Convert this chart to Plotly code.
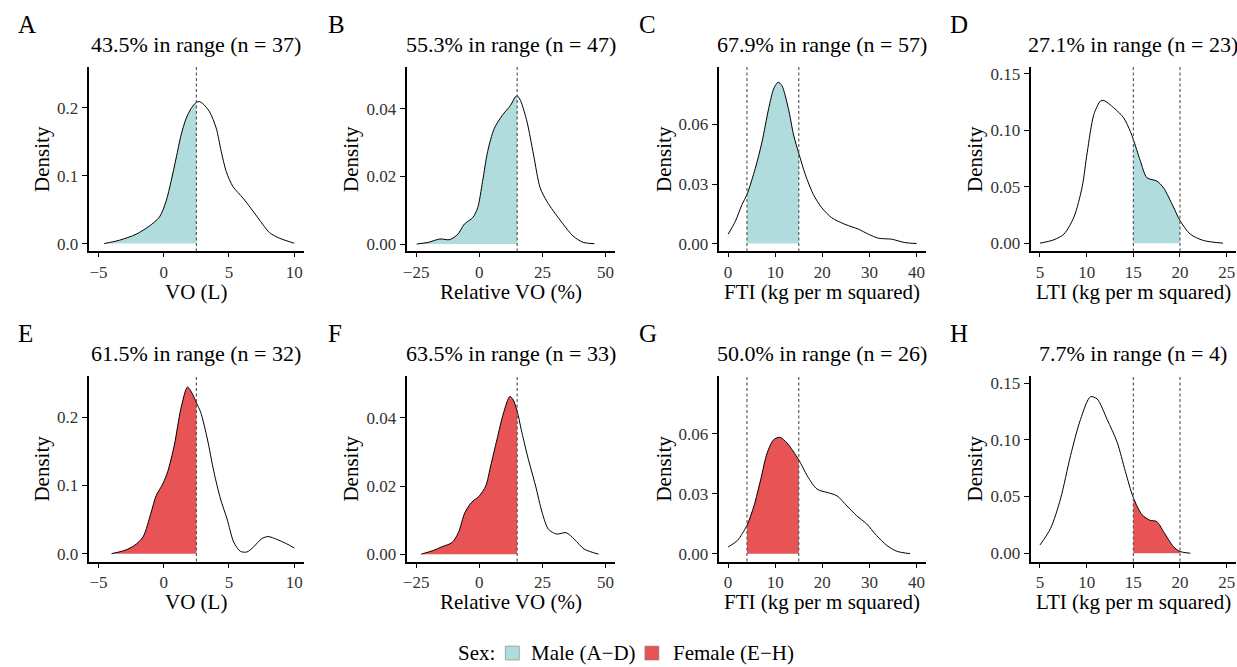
import plotly.graph_objects as go

# ---------------- data ----------------
panel_tags = ["A", "B", "C", "D", "E", "F", "G", "H"]
pct_in_range = ["43.5", "55.3", "67.9", "27.1", "61.5", "63.5", "50.0", "7.7"]
n_in_range = [37, 47, 57, 23, 32, 33, 26, 4]
x_titles = ["VO (L)", "Relative VO (%)", "FTI (kg per m squared)", "LTI (kg per m squared)"]

# reference range limits per column (None = open ended)
range_lo = [None, None, 4, 15]
range_hi = [2.5, 15, 15, 20]

# x axis ticks per column
x_ticks = [[-5, 0, 5, 10], [-25, 0, 25, 50], [0, 10, 20, 30, 40], [5, 10, 15, 20, 25]]
# y axis ticks per column
y_ticks = [[0.0, 0.1, 0.2], [0.00, 0.02, 0.04], [0.00, 0.03, 0.06], [0.00, 0.05, 0.10, 0.15]]
y_tick_labels = [["0.0", "0.1", "0.2"], ["0.00", "0.02", "0.04"],
                 ["0.00", "0.03", "0.06"], ["0.00", "0.05", "0.10", "0.15"]]

# density curves: Male (A-D)
A_x = [-4.56, -3.4, -2.12, -1.1, -0.33, 0.18, 0.56, 0.95, 1.33, 1.71, 2.1, 2.5, 2.74, 3.0, 3.51,
       4.02, 4.4, 4.79, 5.3, 6.07, 6.83, 7.6, 8.11, 8.88, 10.0]
A_y = [0, 0.0049, 0.0137, 0.0259, 0.039, 0.0624, 0.0917, 0.126, 0.16, 0.184, 0.199, 0.208, 0.209,
       0.206, 0.194, 0.17, 0.136, 0.106, 0.084, 0.067, 0.048, 0.028, 0.016, 0.0078, 0.0005]
B_x = [-24.8, -20.2, -15.6, -11.7, -8.5, -5.9, -2.6, -0.65, 1.3, 3.3, 5.9, 9.1, 12.4, 14.3, 15.0,
       16.3, 18.9, 21.5, 24.1, 26.7, 29.3, 33.2, 37.1, 41.1, 45.6]
B_y = [0, 0.0005, 0.0015, 0.0013, 0.0029, 0.0059, 0.0078, 0.0107, 0.0185, 0.0273, 0.0341, 0.038,
       0.041, 0.0435, 0.0438, 0.0424, 0.0361, 0.0263, 0.0166, 0.0127, 0.0098, 0.0059, 0.0024,
       0.0005, 0.0001]
C_x = [0, 1.55, 2.96, 4.0, 5.78, 7.2, 8.6, 9.67, 10.6, 11.4, 12.8, 13.9, 15.0, 16.4, 18.1, 19.9,
       22.0, 24.8, 27.7, 29.8, 31.9, 34.7, 37.5, 40]
C_y = [0.0047, 0.0113, 0.0197, 0.0247, 0.038, 0.0513, 0.068, 0.078, 0.0813, 0.0797, 0.068, 0.0547,
       0.0455, 0.0347, 0.0247, 0.018, 0.013, 0.0097, 0.0072, 0.0047, 0.0027, 0.0022, 0.0005, 0]
D_x = [5.0, 6.5, 7.56, 8.63, 9.52, 10.05, 10.77, 11.48, 11.83, 12.9, 13.97, 14.68, 15.0, 15.75,
       16.46, 17.53, 18.24, 19.3, 20.0, 21.1, 22.5, 24.6]
D_y = [0, 0.003, 0.008, 0.023, 0.05, 0.08, 0.114, 0.126, 0.1265, 0.12, 0.111, 0.099, 0.092, 0.073,
       0.058, 0.055, 0.049, 0.032, 0.020, 0.008, 0.0024, 0]

# density curves: Female (E-H)
E_x = [-4.0, -2.98, -2.23, -1.59, -0.96, -0.58, -0.08, 0.3, 0.81, 1.31, 1.82, 2.2, 2.5, 2.83, 3.34,
       3.84, 4.35, 4.85, 5.36, 5.87, 6.37, 6.88, 7.51, 8.0, 8.65, 9.4, 10.0]
E_y = [0, 0.0049, 0.0122, 0.0244, 0.061, 0.085, 0.102, 0.12, 0.159, 0.212, 0.244, 0.234, 0.221,
       0.207, 0.168, 0.12, 0.080, 0.051, 0.017, 0.0034, 0.0024, 0.0098, 0.022, 0.025, 0.021,
       0.0146, 0.0083]
F_x = [-23, -18.5, -14.7, -10.8, -8.3, -5.7, -3.2, 0, 2.55, 4.5, 7.0, 9.6, 12.1, 13.4, 15.0, 16.6,
       19.1, 22.3, 24.9, 27.4, 30.6, 34.4, 37.6, 41.5, 47.2]
F_y = [0, 0.001, 0.0022, 0.0034, 0.0063, 0.0122, 0.0151, 0.0171, 0.020, 0.0259, 0.0337, 0.0415,
       0.0463, 0.0454, 0.042, 0.0366, 0.0288, 0.020, 0.0122, 0.0073, 0.0059, 0.0063, 0.0044,
       0.0015, 0]
G_x = [0, 1.97, 4.0, 5.5, 6.9, 8.3, 9.7, 11.0, 12.5, 15.0, 16.8, 18.9, 21.0, 23.1, 25.2, 27.3,
       29.4, 31.5, 33.7, 35.8, 38.6]
G_y = [0.0033, 0.0066, 0.0142, 0.024, 0.037, 0.0506, 0.0572, 0.0583, 0.0555, 0.047, 0.039, 0.0323,
       0.0307, 0.029, 0.024, 0.019, 0.0149, 0.0091, 0.0041, 0.0012, 0]
H_x = [5.0, 6.14, 7.2, 8.27, 9.34, 10.41, 11.12, 12.19, 13.26, 14.15, 15.0, 15.93, 16.8, 17.5,
       18.24, 19.3, 20.0, 21.1]
H_y = [0.0073, 0.022, 0.048, 0.086, 0.118, 0.138, 0.136, 0.118, 0.098, 0.072, 0.049, 0.034, 0.029,
       0.028, 0.019, 0.0058, 0.0015, 0]

curves_x = [A_x, B_x, C_x, D_x, E_x, F_x, G_x, H_x]
curves_y = [A_y, B_y, C_y, D_y, E_y, F_y, G_y, H_y]

sex_labels = ["Male (A\u2212D)", "Female (E\u2212H)"]
sex_colors = ["#B0DCDD", "#E85356"]

# ---------------- layout geometry ----------------
W, H = 1237, 667
FONT = "'Liberation Serif', 'Times New Roman', Times, serif"
col_px = [(85, 301), (404, 613), (717, 925), (1030, 1236)]
row_px = [(65, 251), (376, 563)]
x_ranges = [[-5.75, 10.75], [-28.75, 53.75], [-2, 42], [4, 26]]
y_ranges = [[-0.0117, 0.2606], [-0.0022, 0.0524], [-0.004, 0.0892], [-0.0074, 0.1565]]
tag_x = [12, 323, 635, 947]
dens_x = [38, 348, 662, 974]


def px_x(p):
    return p / W


def px_y(p):
    return 1 - p / H


fig = go.Figure()
layout = dict(
    width=W, height=H, margin=dict(l=0, r=0, t=0, b=0, pad=0),
    paper_bgcolor="white", plot_bgcolor="white", showlegend=False,
    font=dict(family=FONT, color="black"),
)
annotations = []
shapes = []

for i in range(8):
    row, col = divmod(i, 4)
    ax = "" if i == 0 else str(i + 1)
    xa, ya = "x" + ax, "y" + ax
    xs, ys = curves_x[i], curves_y[i]
    lo, hi = range_lo[col], range_hi[col]
    color = sex_colors[row]

    # shaded in-range part
    sel = [k for k, v in enumerate(xs) if (lo is None or v >= lo - 1e-9) and (hi is None or v <= hi + 1e-9)]
    fig.add_trace(go.Scatter(
        x=[xs[k] for k in sel], y=[ys[k] for k in sel], xaxis=xa, yaxis=ya,
        mode="lines", line=dict(width=0, shape="spline", smoothing=0.8, color=color),
        fill="tozeroy", fillcolor=color, hoverinfo="skip", name=sex_labels[row]))
    # density curve
    fig.add_trace(go.Scatter(
        x=xs, y=ys, xaxis=xa, yaxis=ya, mode="lines",
        line=dict(color="black", width=1, shape="spline", smoothing=0.8),
        name=sex_labels[row]))

    c0, c1 = col_px[col]
    r0, r1 = row_px[row]
    layout["xaxis" + ax] = dict(
        domain=[px_x(c0), px_x(c1)], range=x_ranges[col], anchor=ya,
        showline=True, linecolor="black", linewidth=2, showgrid=False, zeroline=False,
        ticks="outside", ticklen=4, tickwidth=1.3, tickcolor="black",
        tickvals=x_ticks[col], tickfont=dict(size=17, color="#333333", family=FONT))
    layout["yaxis" + ax] = dict(
        domain=[px_y(r1), px_y(r0)], range=y_ranges[col], anchor=xa,
        showline=True, linecolor="black", linewidth=2, showgrid=False, zeroline=False,
        ticks="outside", ticklen=5, tickwidth=1.3, tickcolor="black",
        tickvals=y_ticks[col], ticktext=y_tick_labels[col],
        tickfont=dict(size=17, color="#333333", family=FONT))

    # reference range lines
    for v in (lo, hi):
        if v is not None:
            shapes.append(dict(type="line", xref=xa, yref=ya + " domain", x0=v, x1=v, y0=0, y1=1,
                               line=dict(color="#4D4D4D", width=1.1, dash="3px,2.5px"), layer="above"))

    cx = (c0 + c1) / 2
    # panel title
    annotations.append(dict(
        text=f"{pct_in_range[i]}% in range (n = {n_in_range[i]})", xref="paper", yref="paper",
        x=px_x(cx), y=px_y(r0 - 22), xanchor="center", yanchor="middle", showarrow=False,
        font=dict(size=22, family=FONT, color="black")))
    # tag letter
    annotations.append(dict(
        text=panel_tags[i], xref="paper", yref="paper", x=px_x(tag_x[col]), y=px_y(r0 - 42),
        xanchor="left", yanchor="middle", showarrow=False,
        font=dict(size=25, family=FONT, color="black")))
    # x axis title
    annotations.append(dict(
        text=x_titles[col], xref="paper", yref="paper", x=px_x(cx), y=px_y(r1 + 41),
        xanchor="center", yanchor="middle", showarrow=False,
        font=dict(size=21, family=FONT, color="black")))
    # y axis title
    annotations.append(dict(
        text="Density", xref="paper", yref="paper", x=px_x(dens_x[col]), y=px_y((r0 + r1) / 2),
        xanchor="center", yanchor="middle", textangle=-90, showarrow=False,
        font=dict(size=21, family=FONT, color="black")))

# ---------------- legend (drawn) ----------------
leg_y = 655
annotations.append(dict(text="Sex:", xref="paper", yref="paper", x=px_x(453), y=px_y(leg_y),
                        xanchor="left", yanchor="middle", showarrow=False,
                        font=dict(size=21, family=FONT, color="black")))
box_x = [503, 643]
text_x = [527, 669]
for k in range(2):
    shapes.append(dict(type="rect", xref="paper", yref="paper",
                       x0=px_x(box_x[k]), x1=px_x(box_x[k] + 14),
                       y0=px_y(leg_y + 7), y1=px_y(leg_y - 7),
                       fillcolor=sex_colors[k], line=dict(color="#7F7F7F", width=0.6)))
    annotations.append(dict(text=sex_labels[k], xref="paper", yref="paper", x=px_x(text_x[k]),
                            y=px_y(leg_y), xanchor="left", yanchor="middle", showarrow=False,
                            font=dict(size=21, family=FONT, color="black")))

layout["annotations"] = annotations
layout["shapes"] = shapes
fig.update_layout(**layout)
fig.write_html("out.html", config={"displayModeBar": False},
               post_script=["document.body.style.margin='0px';document.body.style.overflow='hidden';"
                            "window.dispatchEvent(new Event('resize'));"])
